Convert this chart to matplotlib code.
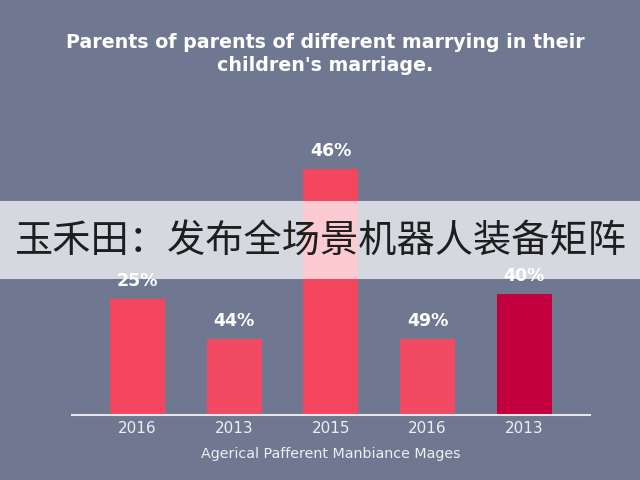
import matplotlib.pyplot as plt
from matplotlib.patches import Rectangle

# data (bar heights do not match the printed labels)
years = ['2016', '2013', '2015', '2016', '2013']
heights = [21.7, 14.2, 46, 14.2, 22.6]
labels = ['25%', '44%', '46%', '49%', '40%']
colors = ['#f5465f', '#f24a63', '#f5465f', '#f24a63', '#c2003f']

title = "Parents of parents of different marrying in their\nchildren's marriage."
xlabel = 'Agerical Pafferent Manbiance Mages'
banner = '玉禾田：发布全场景机器人装备矩阵'

bg = '#707791'
fig = plt.figure(figsize=(6.4, 4.8), dpi=100, facecolor=bg)
ax = fig.add_axes([0.1125, 0.135, 0.809, 0.669], facecolor=bg)

x = range(len(years))
bars = ax.bar(x, heights, width=0.57, color=colors, zorder=2)
for b, lab in zip(bars, labels):
    ax.annotate(lab, (b.get_x() + b.get_width() / 2, b.get_height()),
                xytext=(0, 6.5), textcoords='offset points', ha='center', va='bottom',
                color='white', fontsize=12.5, fontweight='bold')

ax.set_xlim(-0.68, 4.68)
ax.set_ylim(0, 60)
ax.set_xticks(list(x))
ax.set_xticklabels(years, color='#eeeff3', fontsize=11)
ax.tick_params(axis='x', length=0, pad=4)
ax.set_yticks([])
for s in ['top', 'right', 'left']:
    ax.spines[s].set_visible(False)
ax.spines['bottom'].set_color('#e6e7ec')
ax.spines['bottom'].set_linewidth(1.5)
ax.set_xlabel(xlabel, color='#eeeff3', fontsize=10.3, labelpad=8)

fig.text(0.508, 0.887, title, ha='center', va='center', color='white',
         fontsize=13.7, fontweight='bold', linespacing=1.25)

# translucent banner across the middle
fig.patches.append(Rectangle((0, 0.419), 1, 0.162, transform=fig.transFigure,
                             facecolor='white', alpha=0.72, edgecolor='none', zorder=5))
fig.text(0.5, 0.497, banner, ha='center', va='center', color='#1e1e1e', fontsize=27.5,
         family=['Noto Sans CJK SC', 'DejaVu Sans'], zorder=6)

fig.savefig('out.png', dpi=100, facecolor=bg)
